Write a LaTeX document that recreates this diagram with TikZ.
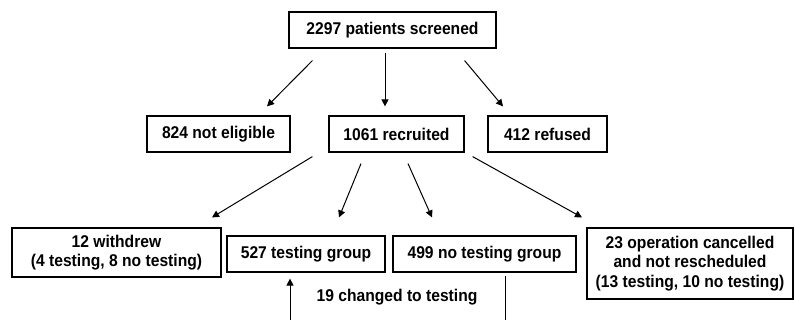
\documentclass[tikz,border=0pt]{standalone}
\usepackage{fontspec}
\setmainfont[FakeStretch=0.92]{Liberation Sans}
\usetikzlibrary{arrows.meta}

\begin{document}
\begin{tikzpicture}[x=1pt, y=-1pt,
    every node/.style={font=\fontsize{17pt}{19.3pt}\selectfont\bfseries},
    box/.style={draw, line width=1.2pt, inner sep=0pt, align=center},
    arr/.style={line width=1pt, -{Triangle[length=7pt,width=7pt]}}]
      \clip (0,0) rectangle (795,320);
      \fill[white] (0,0) rectangle (795,320);
      % first two rows
      \node[box, minimum width=207pt, minimum height=36pt] (screened) at (392.5,30) {2297 patients screened};
      \node[box, minimum width=143pt, minimum height=36pt] (noteligible) at (218.5,134) {824 not eligible};
      \node[box, minimum width=135pt, minimum height=36pt] (recruited) at (396.5,134) {1061 recruited};
      \node[box, minimum width=119pt, minimum height=36pt] (refused) at (547.5,134) {412 refused};
      % third row
      \node[box, minimum width=209pt, minimum height=49pt] (withdrew) at (116.5,252.5) {12 withdrew\\(4 testing, 8 no testing)};
      \node[box, minimum width=158pt, minimum height=36pt] (testing) at (306,254) {527 testing group};
      \node[box, minimum width=183pt, minimum height=36pt] (notesting) at (484.5,254) {499 no testing group};
      \node[box, minimum width=206pt, minimum height=71pt] (cancelled) at (690,263.5) {23 operation cancelled\\and not rescheduled\\(13 testing, 10 no testing)};
      \node (changed) at (397,297) {19 changed to testing};
      \coordinate (swapR) at (505,330);
      \coordinate (swapL) at (290,330);

      \draw[arr] ([xshift=24pt,yshift=-12pt]screened.south west) -- ([xshift=48.5pt,yshift=9pt]noteligible.north);
      \draw[arr] ([xshift=-7.5pt,yshift=-4pt]screened.south) -- ([xshift=-11.5pt,yshift=9pt]recruited.north);
      \draw[arr] ([xshift=-32pt,yshift=-12pt]screened.south east) -- ([xshift=-44.5pt,yshift=9pt]refused.north);

      \draw[arr] ([xshift=-16pt,yshift=-4pt]recruited.south west) -- ([xshift=95.5pt,yshift=10pt]withdrew.north);
      \draw[arr] ([xshift=-35.5pt,yshift=-11pt]recruited.south) -- ([xshift=33pt,yshift=18pt]testing.north);
      \draw[arr] ([xshift=11.5pt,yshift=-11pt]recruited.south) -- ([xshift=-52.5pt,yshift=18pt]notesting.north);
      \draw[arr] ([xshift=8pt,yshift=-4pt]recruited.south east) -- ([xshift=-108pt,yshift=10pt]cancelled.north);

      \draw[arr] ([xshift=20.5pt,yshift=-3pt]notesting.south) -- (swapR) -- (swapL) -- ([xshift=-16pt,yshift=-6pt]testing.south);
\end{tikzpicture}
\end{document}
